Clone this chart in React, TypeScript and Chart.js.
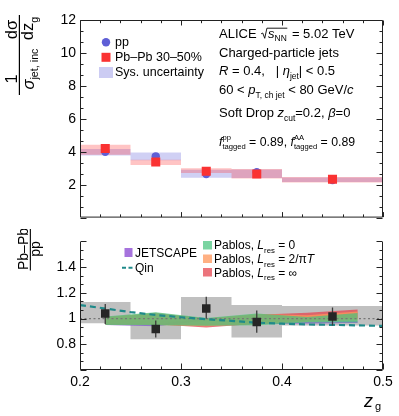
import React, { useEffect, useRef } from "react";
import { Chart, registerables } from "chart.js";

Chart.register(...registerables);

const FONT = '"Liberation Sans", Arial, Helvetica, sans-serif';

// ---------------- data ----------------
const binEdges = [0.2, 0.25, 0.3, 0.35, 0.4, 0.5];
const binCenters = [0.225, 0.275, 0.325, 0.375, 0.45];

// upper panel: 1/sigma dsigma/dz_g
const ppValues = [4.0, 3.72, 2.65, 2.75, 2.28];
const ppSysLow = [3.77, 3.48, 2.42, 2.4, 2.16];
const ppSysHigh = [4.16, 3.95, 2.91, 2.92, 2.44];
const pbpbValues = [4.2, 3.38, 2.82, 2.65, 2.33];
const pbpbSysLow = [3.81, 3.2, 2.71, 2.37, 2.13];
const pbpbSysHigh = [4.43, 3.52, 2.99, 2.95, 2.46];

// lower panel: Pb-Pb / pp
const ratioValues = [1.04, 0.918, 1.079, 0.974, 1.016];
const ratioStatLow = [0.958, 0.853, 1.0, 0.89, 0.946];
const ratioStatHigh = [1.114, 0.985, 1.17, 1.063, 1.086];
const ratioSysLow = [0.963, 0.84, 1.005, 0.853, 0.946];
const ratioSysHigh = [1.128, 0.981, 1.168, 1.105, 1.098];

// models
const modelX = [0.225, 0.275, 0.325, 0.375, 0.425, 0.475];
const jetscapeLow = [0.95, 0.94, 0.985, 0.958, 0.962, 0.965];
const jetscapeHigh = [0.965, 0.955, 1.0, 0.972, 0.976, 0.98];
const pablosInfLow = [0.955, 0.955, 0.93, 0.96, 0.985, 1.0];
const pablosInfHigh = [1.01, 1.04, 1.0, 1.03, 1.045, 1.07];
const pablos2piTLow = [0.952, 0.95, 0.94, 0.955, 0.975, 0.985];
const pablos2piTHigh = [1.012, 1.045, 1.0, 1.035, 1.025, 1.055];
const pablos0Low = [0.95, 0.948, 0.945, 0.948, 0.97, 0.97];
const pablos0High = [1.016, 1.05, 1.005, 1.04, 1.012, 1.044];
const qinX = [0.2, 0.225, 0.25, 0.275, 0.3, 0.325, 0.35, 0.375, 0.4, 0.425, 0.45, 0.475, 0.5];
const qinY = [1.105, 1.078, 1.05, 1.028, 1.01, 0.995, 0.982, 0.968, 0.96, 0.954, 0.951, 0.947, 0.943];
const unityX = [0.2, 0.5];
const unityY = [1, 1];

// ticks
const xTickValues = [0.2, 0.3, 0.4, 0.5];
const upperTickValues = [2, 4, 6, 8, 10, 12];
const ratioTickValues = [0.8, 1, 1.2, 1.4];

// ---------------- helpers ----------------
type Pt = { x: number; y: number | null };
const stepLine = (vals: number[]): Pt[] =>
  vals.flatMap((v, i) => [
    { x: binEdges[i], y: v },
    { x: binEdges[i + 1], y: v },
  ]);
const curve = (xs: number[], ys: number[]): Pt[] => xs.map((x, i) => ({ x, y: ys[i] }));
const errorBars = (lo: number[], hi: number[]): Pt[] =>
  binCenters.flatMap((x, i) => [
    { x, y: lo[i] },
    { x, y: hi[i] },
    { x, y: null },
  ]);

const band = (hi: Pt[], lo: Pt[], color: string, order: number) => [
  { data: hi, borderWidth: 0, borderColor: "rgba(0,0,0,0)", pointRadius: 0, fill: false, order },
  { data: lo, borderWidth: 0, borderColor: "rgba(0,0,0,0)", pointRadius: 0, fill: "-1", backgroundColor: color, order },
];
const markers = (xs: number[], ys: number[], style: string, r: number, color: string, order: number) => ({
  data: curve(xs, ys),
  showLine: false,
  pointStyle: style,
  pointRadius: r,
  pointBackgroundColor: color,
  pointBorderColor: color,
  pointBorderWidth: 0,
  order,
});

const PP_COLOR = "#5f5fd6";
const PBPB_COLOR = "#fa3232";
const PP_SYS = "rgba(100,100,220,0.3)";
const PBPB_SYS = "rgba(255,60,60,0.3)";
const RATIO_SYS = "rgba(140,140,140,0.55)";
const C_JET = "rgba(150,90,215,0.85)";
const C_INF = "rgba(230,70,80,0.75)";
const C_2PI = "rgba(255,150,90,0.75)";
const C_L0 = "rgba(70,195,125,0.72)";
const C_QIN = "#1f8a8a";

interface Seg {
  t?: string;
  it?: boolean;
  sub?: boolean;
  sup?: boolean;
  pair?: [string, string];
}
function rich(ctx: CanvasRenderingContext2D, x: number, y: number, segs: Seg[], size: number, draw = true) {
  let cx = x;
  for (const s of segs) {
    if (s.pair) {
      const ss = size * 0.62;
      ctx.font = `${ss}px ${FONT}`;
      if (draw) {
        ctx.fillText(s.pair[0], cx, y - size * 0.42);
        ctx.fillText(s.pair[1], cx, y + size * 0.3);
      }
      cx += Math.max(ctx.measureText(s.pair[0]).width, ctx.measureText(s.pair[1]).width);
      continue;
    }
    const small = s.sub || s.sup;
    const sz = small ? size * 0.65 : size;
    ctx.font = `${s.it ? "italic " : ""}${sz}px ${FONT}`;
    const dy = s.sub ? size * 0.28 : s.sup ? -size * 0.42 : 0;
    if (draw) ctx.fillText(s.t!, cx, y + dy);
    cx += ctx.measureText(s.t!).width;
  }
  return cx;
}
// rotated (-90deg) rich text: baseline at page x = bx, centred on page y = cy
function rotRich(ctx: CanvasRenderingContext2D, bx: number, cy: number, segs: Seg[], size: number) {
  const w = rich(ctx, 0, 0, segs, size, false);
  ctx.save();
  ctx.translate(bx, cy);
  ctx.rotate(-Math.PI / 2);
  rich(ctx, -w / 2, 0, segs, size);
  ctx.restore();
  return w;
}

interface FrameCfg {
  xMajor: number;
  xMinor: number;
  yMajor: number;
  yMinor: number;
  xLen: [number, number];
  yLen: [number, number];
  drawTop: boolean;
  topTicks: boolean;
}
const isMult = (v: number, m: number) => Math.abs(v / m - Math.round(v / m)) < 1e-6;
const framePlugin = (id: string, cfg: FrameCfg) => ({
  id,
  afterDatasetsDraw(chart: any) {
    const { ctx, chartArea: a, scales } = chart;
    const xs = scales.x;
    const ys = scales.y;
    ctx.save();
    ctx.strokeStyle = "#222";
    ctx.lineWidth = 1;
    ctx.setLineDash([]);
    const L = a.left + 0.5;
    const R = a.right - 0.5;
    const T = a.top + 0.5;
    const B = a.bottom - 0.5;
    ctx.beginPath();
    ctx.moveTo(R, T);
    if (cfg.drawTop) ctx.lineTo(L, T);
    else ctx.moveTo(L, T);
    ctx.lineTo(L, B);
    ctx.lineTo(R, B);
    ctx.lineTo(R, T);
    const nx = Math.round((xs.max - xs.min) / cfg.xMinor);
    for (let i = 0; i <= nx; i++) {
      const v = xs.min + i * cfg.xMinor;
      const len = isMult(v, cfg.xMajor) ? cfg.xLen[0] : cfg.xLen[1];
      const px = Math.round(xs.getPixelForValue(v)) + 0.5;
      ctx.moveTo(px, B);
      ctx.lineTo(px, B - len);
      if (cfg.topTicks) {
        ctx.moveTo(px, T);
        ctx.lineTo(px, T + len);
      }
    }
    const ny = Math.round((ys.max - ys.min) / cfg.yMinor);
    for (let i = 0; i <= ny; i++) {
      const v = ys.min + i * cfg.yMinor;
      const len = isMult(v, cfg.yMajor) ? cfg.yLen[0] : cfg.yLen[1];
      const py = Math.round(ys.getPixelForValue(v)) + 0.5;
      ctx.moveTo(L, py);
      ctx.lineTo(L + len, py);
      ctx.moveTo(R, py);
      ctx.lineTo(R - len, py);
    }
    ctx.stroke();
    ctx.restore();
  },
});
const textPlugin = (id: string, fn: (ctx: CanvasRenderingContext2D) => void) => ({
  id,
  afterDraw(chart: any) {
    const ctx = chart.ctx as CanvasRenderingContext2D;
    ctx.save();
    ctx.fillStyle = "#000";
    ctx.strokeStyle = "#000";
    ctx.textAlign = "left";
    ctx.textBaseline = "alphabetic";
    fn(ctx);
    ctx.restore();
  },
});

// ---------------- text drawing ----------------
function drawUpperText(ctx: CanvasRenderingContext2D) {
  // legend
  ctx.fillStyle = PP_COLOR;
  ctx.beginPath();
  ctx.arc(106, 42.3, 4.2, 0, Math.PI * 2);
  ctx.fill();
  ctx.fillStyle = PBPB_COLOR;
  ctx.fillRect(101.5, 52.8, 9, 9);
  ctx.fillStyle = "rgba(110,110,220,0.35)";
  ctx.fillRect(99, 67, 14, 11);
  ctx.fillStyle = "#000";
  const LS = 12.5;
  rich(ctx, 115, 45.5, [{ t: "pp" }], LS);
  rich(ctx, 115, 61, [{ t: "Pb\u2013Pb 30\u201350%" }], LS);
  rich(ctx, 115, 76, [{ t: "Sys. uncertainty" }], LS);

  // right block
  const x0 = 219;
  const S = 13;
  let x = rich(ctx, x0, 37.7, [{ t: "ALICE" }], S);
  x += S * 0.35;
  ctx.lineWidth = 0.9;
  ctx.beginPath();
  ctx.moveTo(x, 33.8);
  ctx.lineTo(x + 1.6, 33);
  ctx.lineTo(x + 3.6, 38.3);
  ctx.lineTo(x + 5.8, 28.2);
  const x2 = rich(ctx, x + 7, 37.7, [{ t: "s", it: true }, { t: "NN", sub: true }], S);
  ctx.lineTo(x2 + 0.5, 28.2);
  ctx.stroke();
  rich(ctx, x2 + 1.5, 37.7, [{ t: " = 5.02 TeV" }], S);
  rich(ctx, x0, 56.7, [{ t: "Charged-particle jets" }], S);
  rich(
    ctx,
    x0,
    75,
    [{ t: "R", it: true }, { t: " = 0.4,   | " }, { t: "\u03b7", it: true }, { t: "jet", sub: true }, { t: "| < 0.5" }],
    S
  );
  rich(
    ctx,
    x0,
    94.3,
    [{ t: "60 < " }, { t: "p", it: true }, { t: "T, ch jet", sub: true }, { t: " < 80 GeV/" }, { t: "c", it: true }],
    S
  );
  rich(
    ctx,
    x0,
    117.3,
    [{ t: "Soft Drop " }, { t: "z", it: true }, { t: "cut", sub: true }, { t: "=0.2, " }, { t: "\u03b2", it: true }, { t: "=0" }],
    S
  );
  rich(
    ctx,
    x0,
    145.5,
    [
      { t: "f", it: true },
      { pair: ["pp", "tagged"] },
      { t: " = 0.89, " },
      { t: "f", it: true },
      { pair: ["AA", "tagged"] },
      { t: " = 0.89" },
    ],
    12.3
  );

  // y title: 1/sigma_jet,inc  dsigma/dz_g
  const TS = 16.5;
  ctx.fillRect(18.8, 43, 1.2, 52);
  ctx.fillRect(18.8, 15, 1.2, 28);
  rotRich(ctx, 16.5, 79, [{ t: "1" }], TS);
  rotRich(ctx, 33.5, 69, [{ t: "\u03c3", it: true }, { t: "jet, inc", sub: true }], TS);
  rotRich(ctx, 16.5, 29.5, [{ t: "d\u03c3" }], TS);
  rotRich(ctx, 33, 28.5, [{ t: "dz" }, { t: "g", sub: true }], TS);
}

function drawLowerText(ctx: CanvasRenderingContext2D) {
  ctx.translate(0, -229);
  // legend boxes
  ctx.fillStyle = C_JET;
  ctx.fillRect(124.5, 248, 8, 9);
  ctx.strokeStyle = C_QIN;
  ctx.lineWidth = 2;
  ctx.setLineDash([4, 2.5]);
  ctx.beginPath();
  ctx.moveTo(122, 267.7);
  ctx.lineTo(134, 267.7);
  ctx.stroke();
  ctx.setLineDash([]);
  ctx.fillStyle = C_L0;
  ctx.fillRect(203, 241, 9, 8.5);
  ctx.fillStyle = C_2PI;
  ctx.fillRect(203, 254.5, 9, 8.5);
  ctx.fillStyle = C_INF;
  ctx.fillRect(203, 268, 9, 8.5);
  ctx.fillStyle = "#000";
  const LS = 12;
  rich(ctx, 135, 257.3, [{ t: "JETSCAPE" }], LS);
  rich(ctx, 135, 271.7, [{ t: "Qin" }], LS);
  const pab: Seg[] = [{ t: "Pablos, " }, { t: "L", it: true }, { t: "res", sub: true }];
  rich(ctx, 214, 249.3, [...pab, { t: " = 0" }], LS);
  rich(ctx, 214, 263.3, [...pab, { t: " = 2/\u03c0" }, { t: "T", it: true }], LS);
  rich(ctx, 214, 276.7, [...pab, { t: " = \u221e" }], LS);

  // y title Pb-Pb / pp
  const TS = 14;
  rotRich(ctx, 28.3, 249, [{ t: "Pb\u2013Pb" }], TS);
  ctx.fillRect(29.8, 228.5, 1.1, 42);
  rotRich(ctx, 39.5, 249, [{ t: "pp" }], TS);

  // x title z_g
  rich(ctx, 364, 407, [{ t: "z", it: true }], 18);
  rich(ctx, 375, 409.5, [{ t: "g" }], 11);
}

// ---------------- configs ----------------
const tickFont = { size: 14, family: FONT };

function upperConfig(): any {
  const datasets = [
    markers(binCenters, pbpbValues, "rect", 6.4, PBPB_COLOR, 1),
    markers(binCenters, ppValues, "circle", 4.2, PP_COLOR, 2),
    ...band(stepLine(pbpbSysHigh), stepLine(pbpbSysLow), PBPB_SYS, 9),
    ...band(stepLine(ppSysHigh), stepLine(ppSysLow), PP_SYS, 10),
  ];
  return {
    type: "line",
    data: { datasets },
    options: {
      animation: false,
      responsive: false,
      maintainAspectRatio: false,
      events: [],
      layout: { padding: { top: 20, right: 16, bottom: 1, left: 0 } },
      plugins: { legend: { display: false }, tooltip: { enabled: false } },
      scales: {
        x: { type: "linear", min: 0.2, max: 0.5, display: false },
        y: {
          type: "linear",
          min: 0,
          max: 12,
          afterBuildTicks: (s: any) => {
            s.ticks = upperTickValues.map((v) => ({ value: v }));
          },
          afterFit: (s: any) => {
            s.width = 80;
          },
          ticks: { font: tickFont, color: "#000", padding: 4, callback: (v: any) => String(v) },
          grid: { display: false, drawTicks: false },
          border: { display: false },
        },
      },
    },
    plugins: [
      framePlugin("frameUpper", {
        xMajor: 0.1,
        xMinor: 0.02,
        yMajor: 2,
        yMinor: 2 / 3,
        xLen: [5, 2.7],
        yLen: [6, 3],
        drawTop: true,
        topTicks: true,
      }),
      textPlugin("textUpper", drawUpperText),
    ],
  };
}

function lowerConfig(): any {
  const datasets = [
    markers(binCenters, ratioValues, "rect", 6, "#262626", 1),
    {
      data: errorBars(ratioStatLow, ratioStatHigh),
      borderColor: "#3a3a3a",
      borderWidth: 1.3,
      pointRadius: 0,
      spanGaps: false,
      fill: false,
      order: 3,
    },
    {
      data: curve(qinX, qinY),
      borderColor: C_QIN,
      borderWidth: 2.2,
      borderDash: [6, 4],
      pointRadius: 0,
      fill: false,
      order: 4,
    },
    {
      data: curve(unityX, unityY),
      borderColor: "#777",
      borderWidth: 1.3,
      borderDash: [2, 2.5],
      pointRadius: 0,
      fill: false,
      order: 5,
    },
    ...band(curve(modelX, pablos0High), curve(modelX, pablos0Low), C_L0, 6),
    ...band(curve(modelX, pablos2piTHigh), curve(modelX, pablos2piTLow), C_2PI, 7),
    ...band(curve(modelX, pablosInfHigh), curve(modelX, pablosInfLow), C_INF, 8),
    ...band(curve(modelX, jetscapeHigh), curve(modelX, jetscapeLow), C_JET, 9),
    ...band(stepLine(ratioSysHigh), stepLine(ratioSysLow), RATIO_SYS, 12),
  ];
  return {
    type: "line",
    data: { datasets },
    options: {
      animation: false,
      responsive: false,
      maintainAspectRatio: false,
      events: [],
      layout: { padding: { top: 0, right: 16, bottom: 0, left: 0 } },
      plugins: { legend: { display: false }, tooltip: { enabled: false } },
      scales: {
        x: {
          type: "linear",
          min: 0.2,
          max: 0.5,
          afterBuildTicks: (s: any) => {
            s.ticks = xTickValues.map((v) => ({ value: v }));
          },
          afterFit: (s: any) => {
            s.height = 46;
          },
          ticks: {
            font: tickFont,
            color: "#000",
            padding: 4,
            maxRotation: 0,
            autoSkip: false,
            callback: (v: any) => Number(v).toFixed(1),
          },
          grid: { display: false, drawTicks: false },
          border: { display: false },
        },
        y: {
          type: "linear",
          min: 0.6,
          max: 1.6,
          afterBuildTicks: (s: any) => {
            s.ticks = ratioTickValues.map((v) => ({ value: v }));
          },
          afterFit: (s: any) => {
            s.width = 80;
          },
          ticks: { font: tickFont, color: "#000", padding: 4, callback: (v: any) => String(v) },
          grid: { display: false, drawTicks: false },
          border: { display: false },
        },
      },
    },
    plugins: [
      framePlugin("frameLower", {
        xMajor: 0.1,
        xMinor: 0.02,
        yMajor: 0.2,
        yMinor: 0.2 / 3,
        xLen: [6, 3],
        yLen: [6, 3],
        drawTop: false,
        topTicks: false,
      }),
      textPlugin("textLower", drawLowerText),
    ],
  };
}

export default function App() {
  const topRef = useRef<HTMLCanvasElement>(null);
  const botRef = useRef<HTMLCanvasElement>(null);
  useEffect(() => {
    const c1 = new Chart(topRef.current!, upperConfig());
    const c2 = new Chart(botRef.current!, lowerConfig());
    return () => {
      c1.destroy();
      c2.destroy();
    };
  }, []);
  return (
    <div style={{ position: "absolute", left: 0, top: 0, width: 399, height: 416, background: "#fff" }}>
      <canvas
        ref={topRef}
        width={399}
        height={230}
        style={{ position: "absolute", left: 0, top: 0, width: 399, height: 230 }}
      />
      <canvas
        ref={botRef}
        width={399}
        height={187}
        style={{ position: "absolute", left: 0, top: 229, width: 399, height: 187 }}
      />
    </div>
  );
}
